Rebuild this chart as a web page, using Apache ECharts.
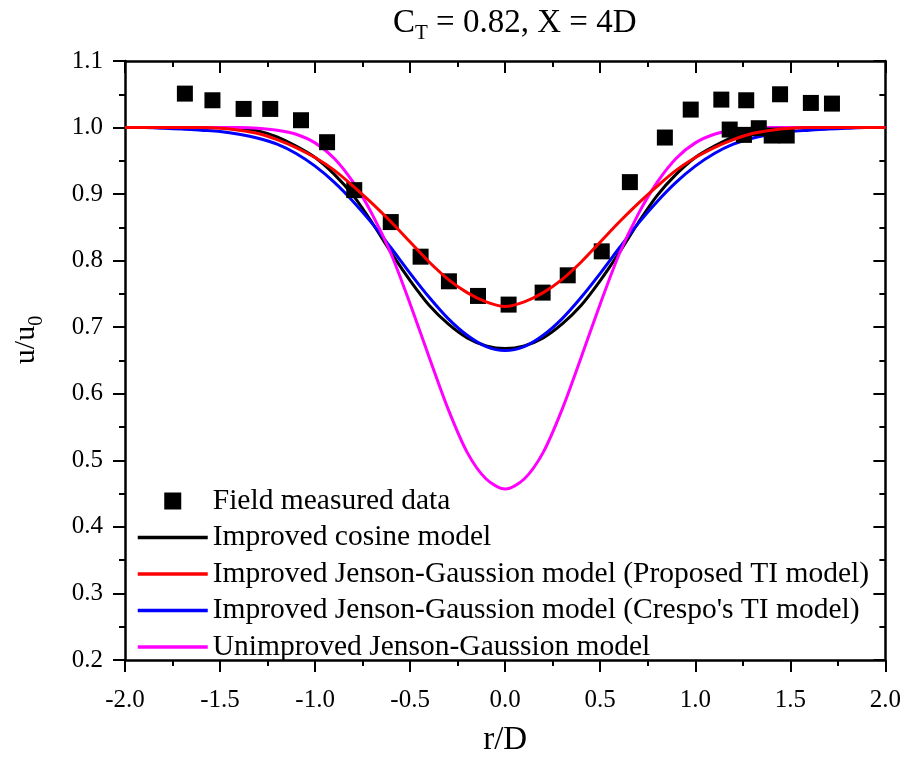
<!DOCTYPE html>
<html>
<head>
<meta charset="utf-8">
<script src="https://cdn.jsdelivr.net/npm/echarts@6/dist/echarts.min.js"></script>
<style>
html,body{margin:0;padding:0;background:#fff;}
#chart{width:904px;height:762px;}
</style>
</head>
<body>
<div id="chart"></div>
<script>
// ---------- data ----------
const rD = [-2.0,-1.9,-1.8,-1.7,-1.6,-1.5,-1.4,-1.3,-1.2,-1.1,-1.0,-0.9,-0.8,-0.7,-0.6,-0.5,-0.4,-0.3,-0.2,-0.1,
            0.0,0.1,0.2,0.3,0.4,0.5,0.6,0.7,0.8,0.9,1.0,1.1,1.2,1.3,1.4,1.5,1.6,1.7,1.8,1.9,2.0];

const cosineModel = [1.000,1.000,1.000,1.000,1.000,1.000,0.999,0.995,0.986,0.972,0.955,0.930,0.898,0.857,0.812,0.770,0.733,0.705,0.684,0.672,
                     0.668,0.672,0.684,0.705,0.733,0.770,0.812,0.857,0.898,0.930,0.955,0.972,0.986,0.995,0.999,1.000,1.000,1.000,1.000,1.000,1.000];

const proposedTI = [1.000,1.000,1.000,1.000,1.000,0.999,0.996,0.991,0.982,0.970,0.955,0.936,0.912,0.886,0.858,0.828,0.798,0.772,0.752,0.738,
                    0.731,0.738,0.752,0.772,0.798,0.828,0.858,0.886,0.912,0.936,0.955,0.970,0.982,0.991,0.996,0.999,1.000,1.000,1.000,1.000,1.000];

const crespoTI = [1.000,1.000,0.999,0.998,0.996,0.994,0.990,0.984,0.975,0.961,0.942,0.918,0.889,0.856,0.819,0.781,0.745,0.713,0.688,0.671,
                  0.665,0.671,0.688,0.713,0.745,0.781,0.819,0.856,0.889,0.918,0.942,0.961,0.975,0.984,0.990,0.994,0.996,0.998,0.999,1.000,1.000];

const unimproved = [1.000,1.000,1.000,1.000,1.000,1.000,1.000,0.999,0.996,0.990,0.977,0.954,0.918,0.870,0.810,0.735,0.655,0.577,0.512,0.472,
                    0.457,0.472,0.512,0.577,0.655,0.735,0.810,0.870,0.918,0.954,0.977,0.990,0.996,0.999,1.000,1.000,1.000,1.000,1.000,1.000,1.000];

const fieldR = [-1.685,-1.540,-1.376,-1.236,-1.074,-0.937,-0.794,-0.602,-0.445,-0.296,-0.143,0.018,0.197,0.329,0.508,0.656,0.840,0.976,
                1.137,1.181,1.256,1.268,1.334,1.402,1.446,1.481,1.608,1.719];
const fieldU = [1.051,1.041,1.028,1.028,1.011,0.978,0.906,0.858,0.806,0.769,0.747,0.734,0.752,0.778,0.814,0.918,0.985,1.027,
                1.042,0.997,0.989,1.041,0.999,0.988,1.050,0.988,1.037,1.036];

const seriesNames = [
  'Field measured data',
  'Improved cosine model',
  'Improved Jenson-Gaussion model (Proposed TI model)',
  "Improved Jenson-Gaussion model (Crespo's TI model)",
  'Unimproved Jenson-Gaussion model'
];
const xTicks = {min: -2.0, max: 2.0, interval: 0.5};
const yTicks = {min: 0.2, max: 1.1, interval: 0.1};

// ---------- chart ----------
const FONT = 'Liberation Serif, Times New Roman, serif';
const pair = (ys) => rD.map((x, i) => [x, ys[i]]);

const chart = echarts.init(document.getElementById('chart'), null, {renderer: 'canvas'});

const axisCommon = {
  axisLine: {show: true, onZero: false, lineStyle: {color: '#000', width: 2.5}},
  splitLine: {show: false},
};

const lineSeries = (name, ys, color, z) => ({
  name, type: 'line', data: pair(ys), z,
  showSymbol: false, symbol: 'none', smooth: 0.3,
  lineStyle: {color, width: 3}, itemStyle: {color},
  emphasis: {disabled: true}
});

const hiddenSym = {opacity: 0};

chart.setOption({
  animation: false,
  backgroundColor: '#fff',
  title: {
    text: '{m|C}{s|T}{m| = 0.82, X = 4D}',
    left: 388, top: 2,
    textStyle: {
      fontWeight: 'normal',
      rich: {
        m: {fontFamily: FONT, fontSize: 33, fontWeight: 'normal', color: '#000', verticalAlign: 'top', lineHeight: 34},
        s: {fontFamily: FONT, fontSize: 21, fontWeight: 'normal', color: '#000', verticalAlign: 'top', lineHeight: 21, padding: [16, 0, 0, 0]}
      }
    }
  },
  grid: {left: 125, right: 16, top: 61, bottom: 94, containLabel: false},
  xAxis: [
    Object.assign({}, axisCommon, {
      type: 'value', position: 'bottom', min: xTicks.min, max: xTicks.max, interval: xTicks.interval,
      name: 'r/D', nameLocation: 'middle', nameGap: 64,
      nameTextStyle: {fontFamily: FONT, fontSize: 33, color: '#000'},
      axisTick: {show: true, inside: false, length: 12, lineStyle: {color: '#000', width: 2}},
      minorTick: {show: true, splitNumber: 2, length: 6, lineStyle: {color: '#000', width: 2}},
      axisLabel: {fontFamily: FONT, fontSize: 25, color: '#000', margin: 28,
                  formatter: v => v.toFixed(1)}
    }),
    Object.assign({}, axisCommon, {
      type: 'value', position: 'top', min: xTicks.min, max: xTicks.max, interval: xTicks.interval,
      axisTick: {show: true, inside: true, length: 12, lineStyle: {color: '#000', width: 2}},
      minorTick: {show: true, splitNumber: 2, length: 6, lineStyle: {color: '#000', width: 2}},
      axisLabel: {show: false}
    })
  ],
  yAxis: [
    Object.assign({}, axisCommon, {
      type: 'value', position: 'left', min: yTicks.min, max: yTicks.max, interval: yTicks.interval,
      axisTick: {show: true, inside: false, length: 12, lineStyle: {color: '#000', width: 2}},
      minorTick: {show: true, splitNumber: 2, length: 6, lineStyle: {color: '#000', width: 2}},
      axisLabel: {fontFamily: FONT, fontSize: 25, color: '#000', margin: 22,
                  formatter: v => v.toFixed(1)}
    }),
    Object.assign({}, axisCommon, {
      type: 'value', position: 'right', min: yTicks.min, max: yTicks.max, interval: yTicks.interval,
      axisTick: {show: true, inside: true, length: 12, lineStyle: {color: '#000', width: 2}},
      minorTick: {show: true, splitNumber: 2, length: 6, lineStyle: {color: '#000', width: 2}},
      axisLabel: {show: false}
    })
  ],
  legend: {
    orient: 'vertical', left: 131, top: 481,
    itemWidth: 70, itemHeight: 17, itemGap: 6.5,
    lineStyle: {width: 3.5},
    textStyle: {fontFamily: FONT, fontSize: 29.5, color: '#000', lineHeight: 30},
    selectedMode: false,
    data: [
      {name: seriesNames[0], icon: 'path://M0,0L10,0L10,10L0,10Z', itemStyle: {color: '#000', opacity: 1}},
      {name: seriesNames[1], itemStyle: hiddenSym},
      {name: seriesNames[2], itemStyle: hiddenSym},
      {name: seriesNames[3], itemStyle: hiddenSym},
      {name: seriesNames[4], itemStyle: hiddenSym}
    ]
  },
  graphic: [{
    type: 'text', x: 27, y: 340, rotation: Math.PI / 2,
    style: {
      text: '{m|u/u}{s|0}', align: 'center', verticalAlign: 'middle',
      rich: {
        m: {fontFamily: FONT, fontSize: 30, fill: '#000', verticalAlign: 'top', lineHeight: 31},
        s: {fontFamily: FONT, fontSize: 20, fill: '#000', verticalAlign: 'top', lineHeight: 20, padding: [15, 0, 0, 0]}
      }
    }
  }],
  series: [
    {
      name: seriesNames[0], type: 'scatter', z: 5,
      data: fieldR.map((x, i) => [x, fieldU[i]]),
      symbol: 'rect', symbolSize: 16, itemStyle: {color: '#000', opacity: 1},
      emphasis: {disabled: true}
    },
    lineSeries(seriesNames[1], cosineModel, '#000000', 2),
    lineSeries(seriesNames[2], proposedTI, '#ff0000', 6),
    lineSeries(seriesNames[3], crespoTI, '#0000ff', 3),
    lineSeries(seriesNames[4], unimproved, '#ff00ff', 4)
  ]
});
</script>
</body>
</html>
